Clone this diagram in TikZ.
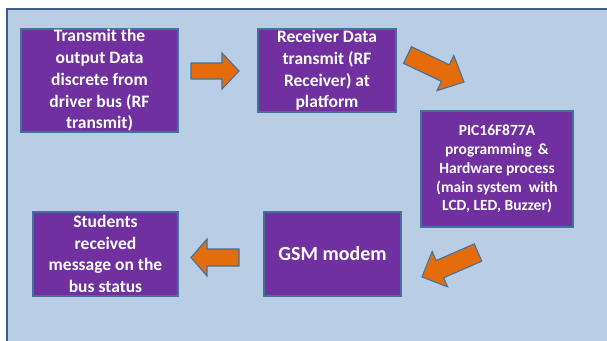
\documentclass[tikz,border=0pt]{standalone}
\usepackage{fontspec}
\setmainfont{Carlito}
\definecolor{panelfill}{HTML}{B9CDE5}
\definecolor{panelline}{HTML}{385D8A}
\definecolor{boxfill}{HTML}{7030A0}
\definecolor{boxline}{HTML}{41719C}
\definecolor{arrfill}{HTML}{E46C0A}
\definecolor{arrline}{HTML}{41719C}
\tikzset{
  blk/.style={draw=boxline, line width=1.2pt, fill=boxfill, text=white, align=center, inner sep=0pt,
    font=\bfseries\fontsize{17.5}{21.7}\selectfont},
  barrow/.style={draw=arrline, line width=1.1pt, fill=arrfill, line join=miter},
}
\newcommand{\blockarr}[7]{%
  \draw[barrow, shift={(#1,#2)}, rotate=#3]
    ({-#4/2},{-#6/2}) -- ({#4/2-#7},{-#6/2}) -- ({#4/2-#7},{-#5/2}) -- ({#4/2},0)
    -- ({#4/2-#7},{#5/2}) -- ({#4/2-#7},{#6/2}) -- ({-#4/2},{#6/2}) -- cycle;}
\begin{document}
\begin{tikzpicture}[x=1pt,y=-1pt]
\useasboundingbox (0,0) rectangle (607,340);
\clip (0,0) rectangle (607,340);
\fill[white] (0,0) rectangle (607,340);
\draw[panelline, line width=2pt, fill=panelfill] (7,9) rectangle (615,350);

\node[blk, minimum width=157pt, minimum height=103pt] (tx) at (99.5,80.5)
  {Transmit the\\output Data\\discrete from\\driver bus (RF\\transmit)};
\node[blk, minimum width=138pt, minimum height=83pt] (rx) at (327,70.5)
  {Receiver Data\\transmit (RF\\Receiver) at\\platform};
\node[blk, minimum width=152pt, minimum height=116pt, font=\bfseries\fontsize{15.5}{18.9}\selectfont] (pic) at (497,169)
  {PIC16F877A\\programming \,\&\\Hardware process\\(main system \ with\\LCD, LED, Buzzer)};
\node[blk, minimum width=137pt, minimum height=84pt, font=\bfseries\fontsize{20}{24}\selectfont] (gsm) at (332.5,254)
  {GSM modem};
\node[blk, minimum width=145pt, minimum height=84pt] (stu) at (105.5,254)
  {Students\\received\\message on the\\bus status};

\blockarr{215}{71}{0}{48}{36}{16}{17}
\blockarr{435.75}{68.5}{-25.5}{62.6}{39}{18.4}{20.6}
\blockarr{450}{264.75}{203.6}{61.1}{38.5}{18.8}{19.5}
\blockarr{215}{257.5}{180}{48}{37}{17}{16}
\end{tikzpicture}
\end{document}
